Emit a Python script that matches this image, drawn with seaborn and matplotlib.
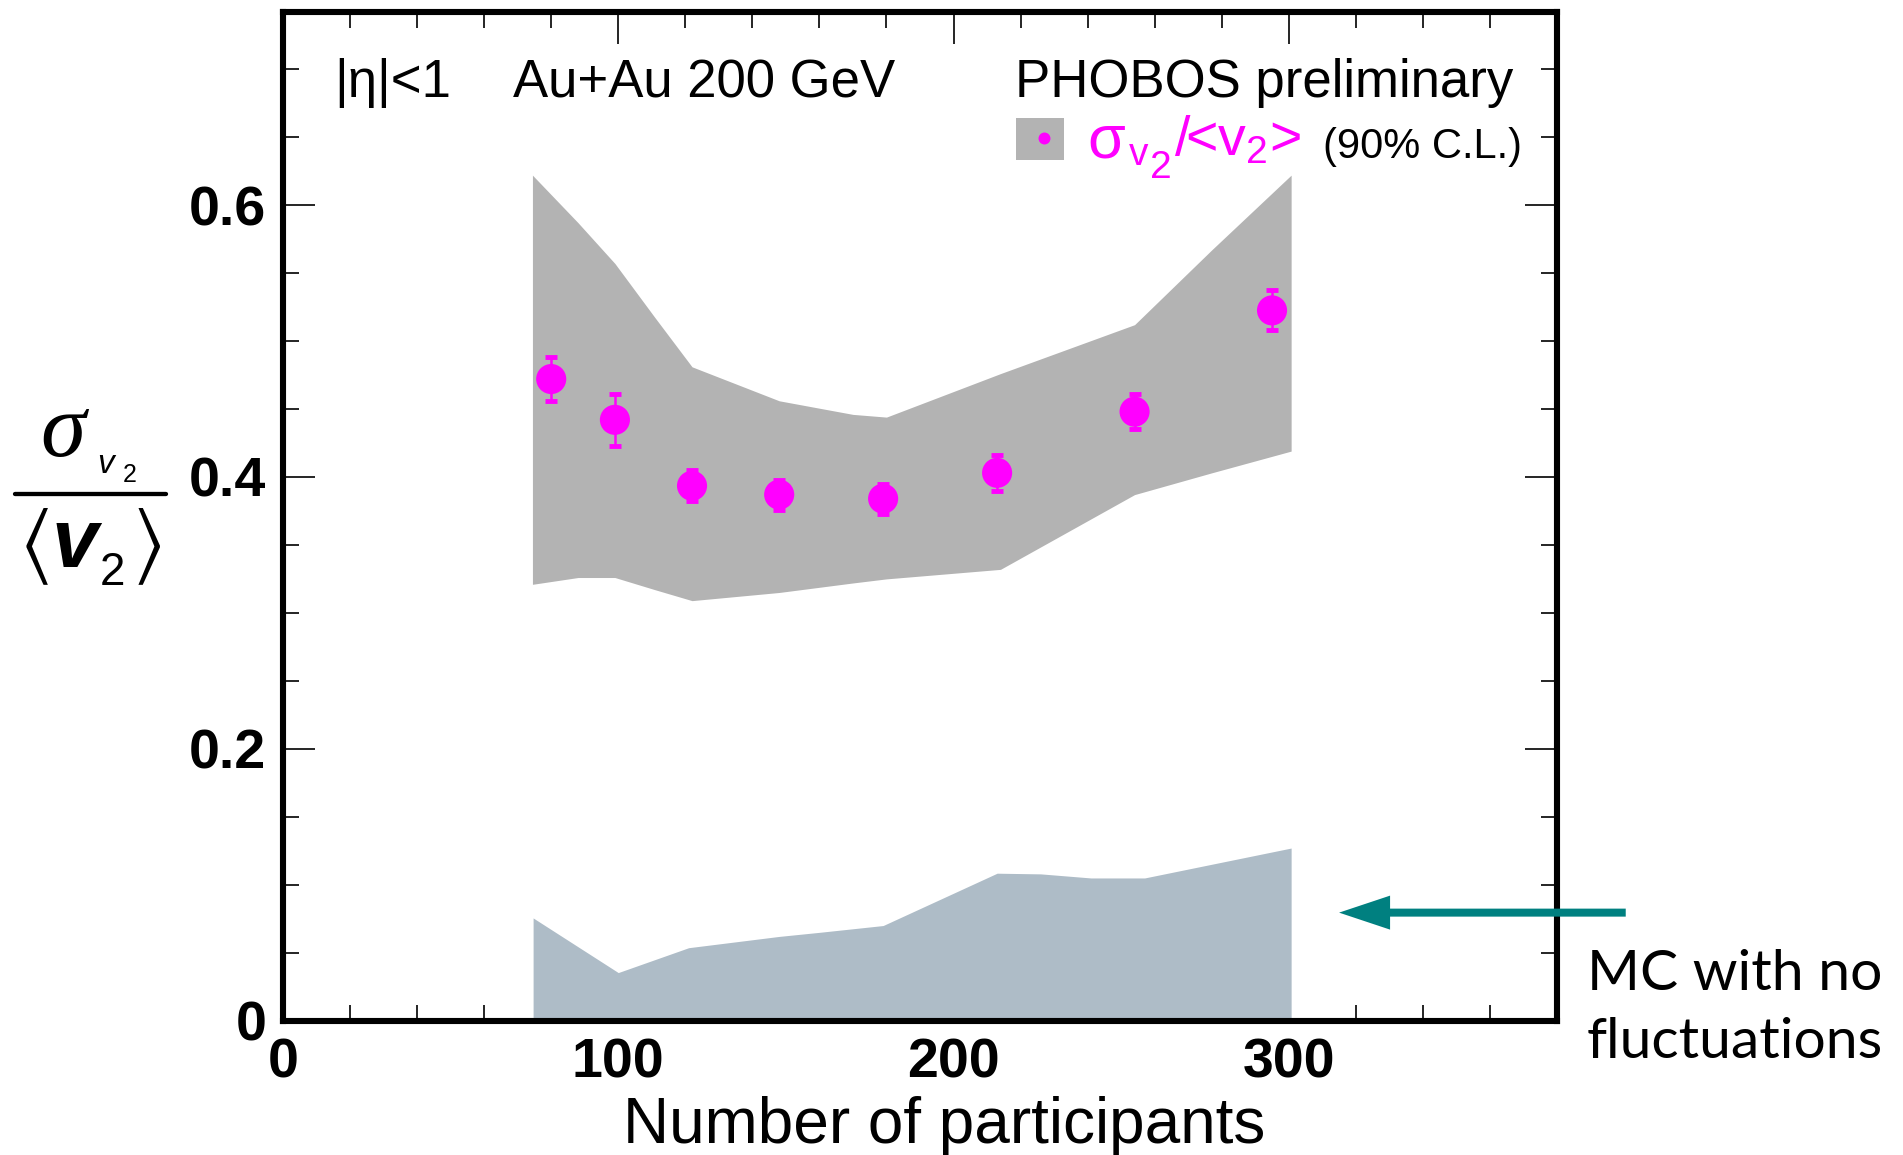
import matplotlib
matplotlib.use("Agg")
import matplotlib.pyplot as plt
import seaborn as sns
from matplotlib.lines import Line2D
from matplotlib.patches import Rectangle
from matplotlib.ticker import MultipleLocator
from matplotlib import font_manager

# sigma(v2)/<v2> measured at each centrality bin
npart = [80, 99, 122, 148, 179, 213, 254, 295]
ratio = [0.472, 0.442, 0.3935, 0.387, 0.384, 0.403, 0.448, 0.5225]
ratio_err = [0.0165, 0.019, 0.0115, 0.011, 0.011, 0.013, 0.0127, 0.0147]

# 90% C.L. systematic band
band_npart = [74.4, 88, 99, 111, 122, 148, 170, 180, 214, 254, 277, 300.7]
band_high = [0.622, 0.587, 0.557, 0.517, 0.481, 0.456, 0.446, 0.444,
             0.476, 0.512, 0.567, 0.622]
band_low = [0.321, 0.326, 0.326, 0.317, 0.309, 0.315, 0.322, 0.325,
            0.332, 0.387, 0.403, 0.419]

# Glauber Monte Carlo without event-by-event fluctuations
mc_npart = [74.6, 100, 121, 135, 148, 160, 179, 213, 226, 241, 257, 300.7]
mc_ratio = [0.0756, 0.0354, 0.0537, 0.058, 0.062, 0.065, 0.070, 0.1085,
            0.108, 0.105, 0.105, 0.127]

x_ticks = [0, 100, 200, 300]
x_tick_labels = ["0", "100", "200", "300"]
y_ticks = [0, 0.2, 0.4, 0.6]
y_tick_labels = ["0", "0.2", "0.4", "0.6"]

MAGENTA = "#ff00ff"
BAND_GREY = "#b3b3b3"
MC_BLUE = "#aebcc7"
TEAL = "#008080"

sns.set_theme(style="ticks")
plt.rcParams["font.family"] = ["Liberation Sans", "DejaVu Sans"]
plt.rcParams["text.color"] = "black"
plt.rcParams["axes.labelcolor"] = "black"
plt.rcParams["xtick.color"] = "black"
plt.rcParams["ytick.color"] = "black"
plt.rcParams["mathtext.fontset"] = "custom"
plt.rcParams["mathtext.rm"] = "Liberation Sans"
plt.rcParams["mathtext.it"] = "Liberation Sans:italic"
plt.rcParams["mathtext.bf"] = "Liberation Sans:bold"
plt.rcParams["mathtext.default"] = "regular"

installed = {f.name for f in font_manager.fontManager.ttflist}
narrow = "Liberation Sans Narrow" if "Liberation Sans Narrow" in installed else "Liberation Sans"

W, H = 1903, 1155
fig = plt.figure(figsize=(W / 100, H / 100), dpi=100)


def fx(px):
    return px / W


def fy(py):
    return 1 - py / H


AX_L, AX_R, AX_T, AX_B = 283, 1557, 12, 1020.7
ax = fig.add_axes([fx(AX_L), fy(AX_B), (AX_R - AX_L) / W, (AX_B - AX_T) / H])
ax.set_facecolor("white")


def ax_frac(px, py):
    return (px - AX_L) / (AX_R - AX_L), (AX_B - py) / (AX_B - AX_T)


# bands
ax.fill_between(band_npart, band_low, band_high, color=BAND_GREY, lw=0, zorder=1)
ax.fill_between(mc_npart, 0, mc_ratio, color=MC_BLUE, lw=0, zorder=1)

# data points with statistical errors
ax.errorbar(npart, ratio, yerr=ratio_err, fmt="none", ecolor=MAGENTA,
            elinewidth=1.8, capsize=4, capthick=3.5, zorder=3)
sns.scatterplot(x=npart, y=ratio, s=470, color=MAGENTA, edgecolor="none",
                linewidth=0, ax=ax, zorder=4, legend=False)

ax.set_xlim(0, 380)
ax.set_ylim(0, 0.742)
ax.set_xticks(x_ticks, labels=x_tick_labels, fontsize=40, fontweight="bold")
ax.set_yticks(y_ticks, labels=y_tick_labels, fontsize=40, fontweight="bold")
ax.xaxis.set_minor_locator(MultipleLocator(20))
ax.yaxis.set_minor_locator(MultipleLocator(0.05))
ax.tick_params(which="both", direction="in", top=True, right=True,
               color="black", labelcolor="black")
ax.tick_params(which="major", length=23, width=1.2, pad=12)
ax.tick_params(which="minor", length=11.5, width=1.2)
for s in ax.spines.values():
    s.set_visible(True)
    s.set_linewidth(4.4)
    s.set_color("black")
    s.set_zorder(5)
ax.set_xlabel("")
ax.set_ylabel("")

# header texts
fig.text(fx(334), fy(97), "|η|<1", fontsize=38, va="baseline")
fig.text(fx(513), fy(97), "Au+Au 200 GeV", fontsize=38, va="baseline")
fig.text(fx(1015), fy(97), "PHOBOS preliminary", fontsize=38, va="baseline")

# legend key: grey band swatch with a magenta marker
bx0, by0 = ax_frac(1016, 160)
bx1, by1 = ax_frac(1064, 118)
ax.add_patch(Rectangle((bx0, by0), bx1 - bx0, by1 - by0, transform=ax.transAxes,
                       facecolor=BAND_GREY, edgecolor="none", zorder=6,
                       clip_on=False))
dx, dy = ax_frac(1044, 137.5)
ax.plot([dx], [dy], marker="o", ls="", color=MAGENTA, markersize=8.6,
        markeredgewidth=0, transform=ax.transAxes, zorder=7, clip_on=False)

# legend label
fig.text(fx(1087), fy(157), "σ", fontsize=44, color=MAGENTA, va="baseline")
fig.text(fx(1129), fy(165), "v", fontsize=28, color=MAGENTA, va="baseline")
fig.text(fx(1150), fy(178), "2", fontsize=28, color=MAGENTA, va="baseline")
fig.text(fx(1174), fy(155), r"/<v$_{2}$>", fontsize=40, color=MAGENTA,
         va="baseline")
fig.text(fx(1323), fy(158), "(90% C.L.)", fontsize=30, va="baseline")

# arrow pointing at the MC band
ax.arrow(400.5, 0.0795, -85.5, 0, width=8 / 1359.4, head_width=34 / 1359.4,
         head_length=51 / 3.3526, length_includes_head=True, color=TEAL,
         lw=0, clip_on=False, zorder=6)
fig.text(fx(1587), fy(990), "MC with no", family=["Lato", "DejaVu Sans"],
         fontsize=41, va="baseline")
fig.text(fx(1587), fy(1058), "fluctuations", family=["Lato", "DejaVu Sans"],
         fontsize=41, va="baseline")

# x axis title
fig.text(fx(943.7), fy(1143), "Number of participants", family=[narrow, "DejaVu Sans"],
         fontsize=46, ha="center", va="baseline")

# y axis title: sigma_{v2} over <v2>
fig.text(fx(40), fy(456), "σ", family=["Liberation Serif", "DejaVu Serif"],
         style="italic", fontsize=66, va="baseline")
fig.text(fx(97), fy(473), "v", style="italic", fontsize=24, va="baseline")
fig.text(fx(123), fy(482), "2", fontsize=18, va="baseline")
fig.add_artist(Line2D([fx(15), fx(166)], [fy(494), fy(494)], color="black",
                      lw=3.1, transform=fig.transFigure))
fig.text(fx(19), fy(546.5), r"$\langle$", math_fontfamily="stix",
         fontsize=60, va="center", ha="left")
fig.text(fx(52), fy(567), "v", style="italic", fontweight="bold", fontsize=60,
         va="baseline")
fig.text(fx(100), fy(585), "2", fontsize=33, va="baseline")
fig.text(fx(132), fy(546.5), r"$\rangle$", math_fontfamily="stix",
         fontsize=60, va="center", ha="left")

fig.savefig("out.png", dpi=100)
